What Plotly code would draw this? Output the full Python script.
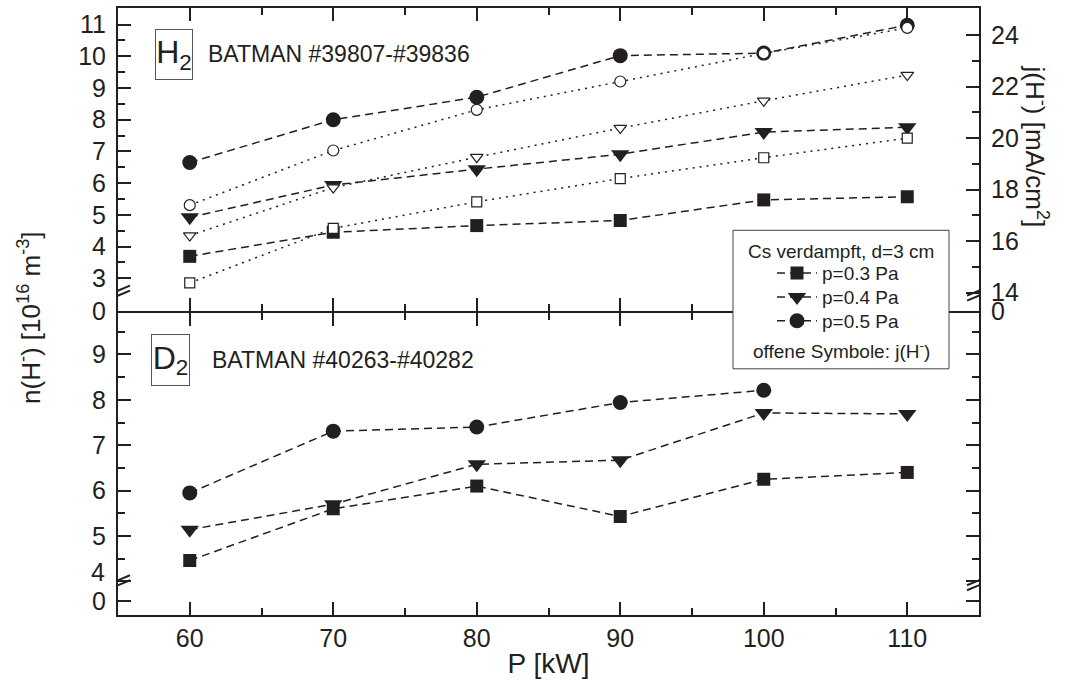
import plotly.graph_objects as go

# ---------------- data ----------------
P = [60, 70, 80, 90, 100, 110]
P_D2_05 = [60, 70, 80, 90, 100]

# H2, density n(H-) [1e16 m^-3] (filled symbols)
H2_n_03 = [3.69, 4.45, 4.66, 4.82, 5.47, 5.57]
H2_n_04 = [4.92, 5.94, 6.44, 6.91, 7.61, 7.76]
H2_n_05 = [6.65, 8.00, 8.71, 10.02, 10.10, 10.98]
# H2, current density j(H-) [mA/cm2] (open symbols)
H2_j_03 = [14.38, 16.50, 17.53, 18.43, 19.24, 20.00]
H2_j_04 = [16.22, 18.08, 19.26, 20.39, 21.45, 22.45]
H2_j_05 = [17.40, 19.52, 21.10, 22.20, 23.29, 24.28]
# D2, density
D2_n_03 = [4.46, 5.60, 6.10, 5.43, 6.25, 6.40]
D2_n_04 = [5.14, 5.70, 6.58, 6.67, 7.71, 7.69]
D2_n_05 = [5.95, 7.31, 7.40, 7.94, 8.21]

series_names = ["p=0.3 Pa", "p=0.4 Pa", "p=0.5 Pa"]

# tick labels
x_ticks = [60, 70, 80, 90, 100, 110]
top_left_ticks = [3, 4, 5, 6, 7, 8, 9, 10, 11]
top_right_ticks = [14, 16, 18, 20, 22, 24]
bot_left_ticks = [4, 5, 6, 7, 8, 9]

# ---------------- style ----------------
INK = "#231f20"
FONT = "Liberation Sans, Arial, sans-serif"
DASH = "8px,5px"
DOT = "2px,5px"

# axis ranges (broken axes: the "0" label sits below the break)
TOP_L_RANGE = [1.966, 11.523]
TOP_L_ZERO = 1.968
TOP_R_RANGE = [13.29, 25.053]
TOP_R_ZERO = 13.295
BOT_RANGE = [3.26, 9.912]
BOT_ZERO = 3.56
TOP_BREAK = 2.53
BOT_BREAK = 3.97

PLOT_H = 609
split = 304 / PLOT_H

fig = go.Figure()

symbols = ["square", "triangle-down", "circle"]
fsizes = [13, 16, 15]
osizes = [10, 11, 11]
legends = ["legend", "legend2", "legend3"]

# top panel filled (density)
for name, sym, sz, lg, ys in zip(series_names, symbols, fsizes, legends,
                                 [H2_n_03, H2_n_04, H2_n_05]):
    fig.add_trace(go.Scatter(
        x=P, y=ys, xaxis="x2", yaxis="y2", mode="lines+markers", name=name,
        line=dict(color=INK, width=1.5, dash=DASH),
        marker=dict(symbol=sym, size=sz, color=INK, line=dict(color=INK, width=0)),
        showlegend=True, legend=lg))

# top panel open (current density)
for name, sym, sz, ys in zip(series_names, symbols, osizes, [H2_j_03, H2_j_04, H2_j_05]):
    fig.add_trace(go.Scatter(
        x=P, y=ys, xaxis="x2", yaxis="y3", mode="lines+markers", name=name + " j",
        line=dict(color=INK, width=1.5, dash=DOT),
        marker=dict(symbol=sym, size=sz, color="white", line=dict(color=INK, width=1.2)),
        showlegend=False))

# bottom panel (D2)
for sym, sz, xs, ys in zip(symbols, fsizes, [P, P, P_D2_05], [D2_n_03, D2_n_04, D2_n_05]):
    fig.add_trace(go.Scatter(
        x=xs, y=ys, xaxis="x", yaxis="y", mode="lines+markers",
        line=dict(color=INK, width=1.5, dash=DASH),
        marker=dict(symbol=sym, size=sz, color=INK, line=dict(color=INK, width=0)),
        showlegend=False))

tickfont = dict(family=FONT, size=25, color=INK)
common_axis = dict(showline=True, linewidth=2, linecolor=INK, ticks="inside",
                   ticklen=13, tickwidth=2, tickcolor=INK, showgrid=False,
                   zeroline=False, tickfont=tickfont)
x_minor = dict(tickvals=[65, 75, 85, 95, 105], ticks="inside", ticklen=7,
               tickwidth=2, tickcolor=INK)


def px(xp):
    return (xp - 118) / 861


def py(yp):
    return (615 - yp) / PLOT_H


def legend_at(yc):
    return dict(x=px(772), xanchor="left", y=py(yc), yanchor="middle",
                bgcolor="rgba(0,0,0,0)", borderwidth=0, itemwidth=40,
                font=dict(family=FONT, size=19, color=INK))


# the "4" of the lower panel sits just above the axis break (drawn as annotation)
bot_ticktext = ["0"] + ["" if v == 4 else str(v) for v in bot_left_ticks]

fig.update_layout(
    width=1065, height=688, autosize=False,
    margin=dict(l=118, r=86, t=6, b=73),
    paper_bgcolor="white", plot_bgcolor="white",
    font=dict(family=FONT, color=INK),
    xaxis=dict(domain=[0, 1], anchor="y", range=[55, 115], tickvals=x_ticks,
               mirror="ticks", minor=x_minor,
               title=dict(text="P [kW]", font=dict(family=FONT, size=28, color=INK), standoff=2),
               **common_axis),
    xaxis2=dict(domain=[0, 1], anchor="y2", range=[55, 115], matches="x",
                tickvals=x_ticks, showticklabels=False, mirror="ticks",
                minor=x_minor, **common_axis),
    yaxis=dict(domain=[0, split - 1 / PLOT_H], anchor="x", range=BOT_RANGE,
               tickvals=[BOT_ZERO] + bot_left_ticks,
               ticktext=bot_ticktext,
               mirror="ticks", ticklabelstandoff=5,
               minor=dict(tickvals=[4.5, 5.5, 6.5, 7.5, 8.5, 9.5], ticks="inside",
                          ticklen=7, tickwidth=2, tickcolor=INK),
               **common_axis),
    yaxis2=dict(domain=[split + 1 / PLOT_H, 1], anchor="x2", range=TOP_L_RANGE,
                tickvals=[TOP_L_ZERO] + top_left_ticks,
                ticktext=["0"] + [str(v) for v in top_left_ticks],
                mirror=False, ticklabelstandoff=5,
                minor=dict(tickvals=[3.5, 4.5, 5.5, 6.5, 7.5, 8.5, 9.5, 10.5],
                           ticks="inside", ticklen=7, tickwidth=2, tickcolor=INK),
                **common_axis),
    yaxis3=dict(overlaying="y2", side="right", anchor="x2", range=TOP_R_RANGE,
                tickvals=[TOP_R_ZERO] + top_right_ticks,
                ticktext=["0"] + [str(v) for v in top_right_ticks],
                ticklabelstandoff=5,
                minor=dict(tickvals=[15, 17, 19, 21, 23], ticks="inside",
                           ticklen=7, tickwidth=2, tickcolor=INK),
                **common_axis),
    legend=legend_at(272),
    legend2=legend_at(296),
    legend3=legend_at(320),
)

# axis break marks
shapes = []


def add_break(xref, xval, yref, yval):
    for off in (-2.5, 2.5):
        shapes.append(dict(type="line", xref=xref, yref=yref,
                           xsizemode="pixel", xanchor=xval, x0=-12, x1=12,
                           ysizemode="pixel", yanchor=yval, y0=off - 5, y1=off + 5,
                           line=dict(color=INK, width=2)))


add_break("x2", 55, "y2", TOP_BREAK)
add_break("x2", 115, "y2", TOP_BREAK)
add_break("x", 55, "y", BOT_BREAK)
add_break("x", 115, "y", BOT_BREAK)

# legend box
shapes.append(dict(type="rect", xref="paper", yref="paper",
                   x0=px(733), x1=px(949), y0=py(368), y1=py(229),
                   fillcolor="white", line=dict(color="#444", width=1), layer="above"))
fig.update_layout(shapes=shapes)

annots = [
    dict(text="Cs verdampft, d=3 cm", x=px(841), y=py(250), xanchor="center", yanchor="middle",
         font=dict(size=19)),
    dict(text="offene Symbole: j(H<sup>-</sup>)", x=px(841), y=py(349), xanchor="center",
         yanchor="middle", font=dict(size=19)),
    dict(text="H<sub>2</sub>", x=px(174), y=py(52.5), xanchor="center", yanchor="middle",
         font=dict(size=32), bordercolor="#555", borderwidth=1, width=36, height=49,
         borderpad=0),
    dict(text="BATMAN #39807-#39836", x=px(206), y=py(52), xanchor="left", yanchor="middle",
         font=dict(size=23)),
    dict(text="D<sub>2</sub>", x=px(170.5), y=py(359), xanchor="center", yanchor="middle",
         font=dict(size=32), bordercolor="#555", borderwidth=1, width=37, height=50,
         borderpad=0),
    dict(text="BATMAN #40263-#40282", x=px(210), y=py(359), xanchor="left", yanchor="middle",
         font=dict(size=23)),
    dict(text="4", x=px(107), y=py(572), xanchor="right", yanchor="middle",
         font=dict(size=25)),
    dict(text="n(H<sup>-</sup>) [10<sup>16</sup> m<sup>-3</sup>]", x=px(30), y=py(317),
         xanchor="center", yanchor="middle", textangle=-90, font=dict(size=26)),
    dict(text="j(H<sup>-</sup>) [mA/cm<sup>2</sup>]", x=px(1036), y=py(145),
         xanchor="center", yanchor="middle", textangle=90, font=dict(size=26)),
]
for a in annots:
    a.setdefault("xref", "paper")
    a.setdefault("yref", "paper")
    a.setdefault("showarrow", False)
    a["font"] = dict(family=FONT, color=INK, **a["font"])
fig.update_layout(annotations=annots)

fig.write_html("out.html")
